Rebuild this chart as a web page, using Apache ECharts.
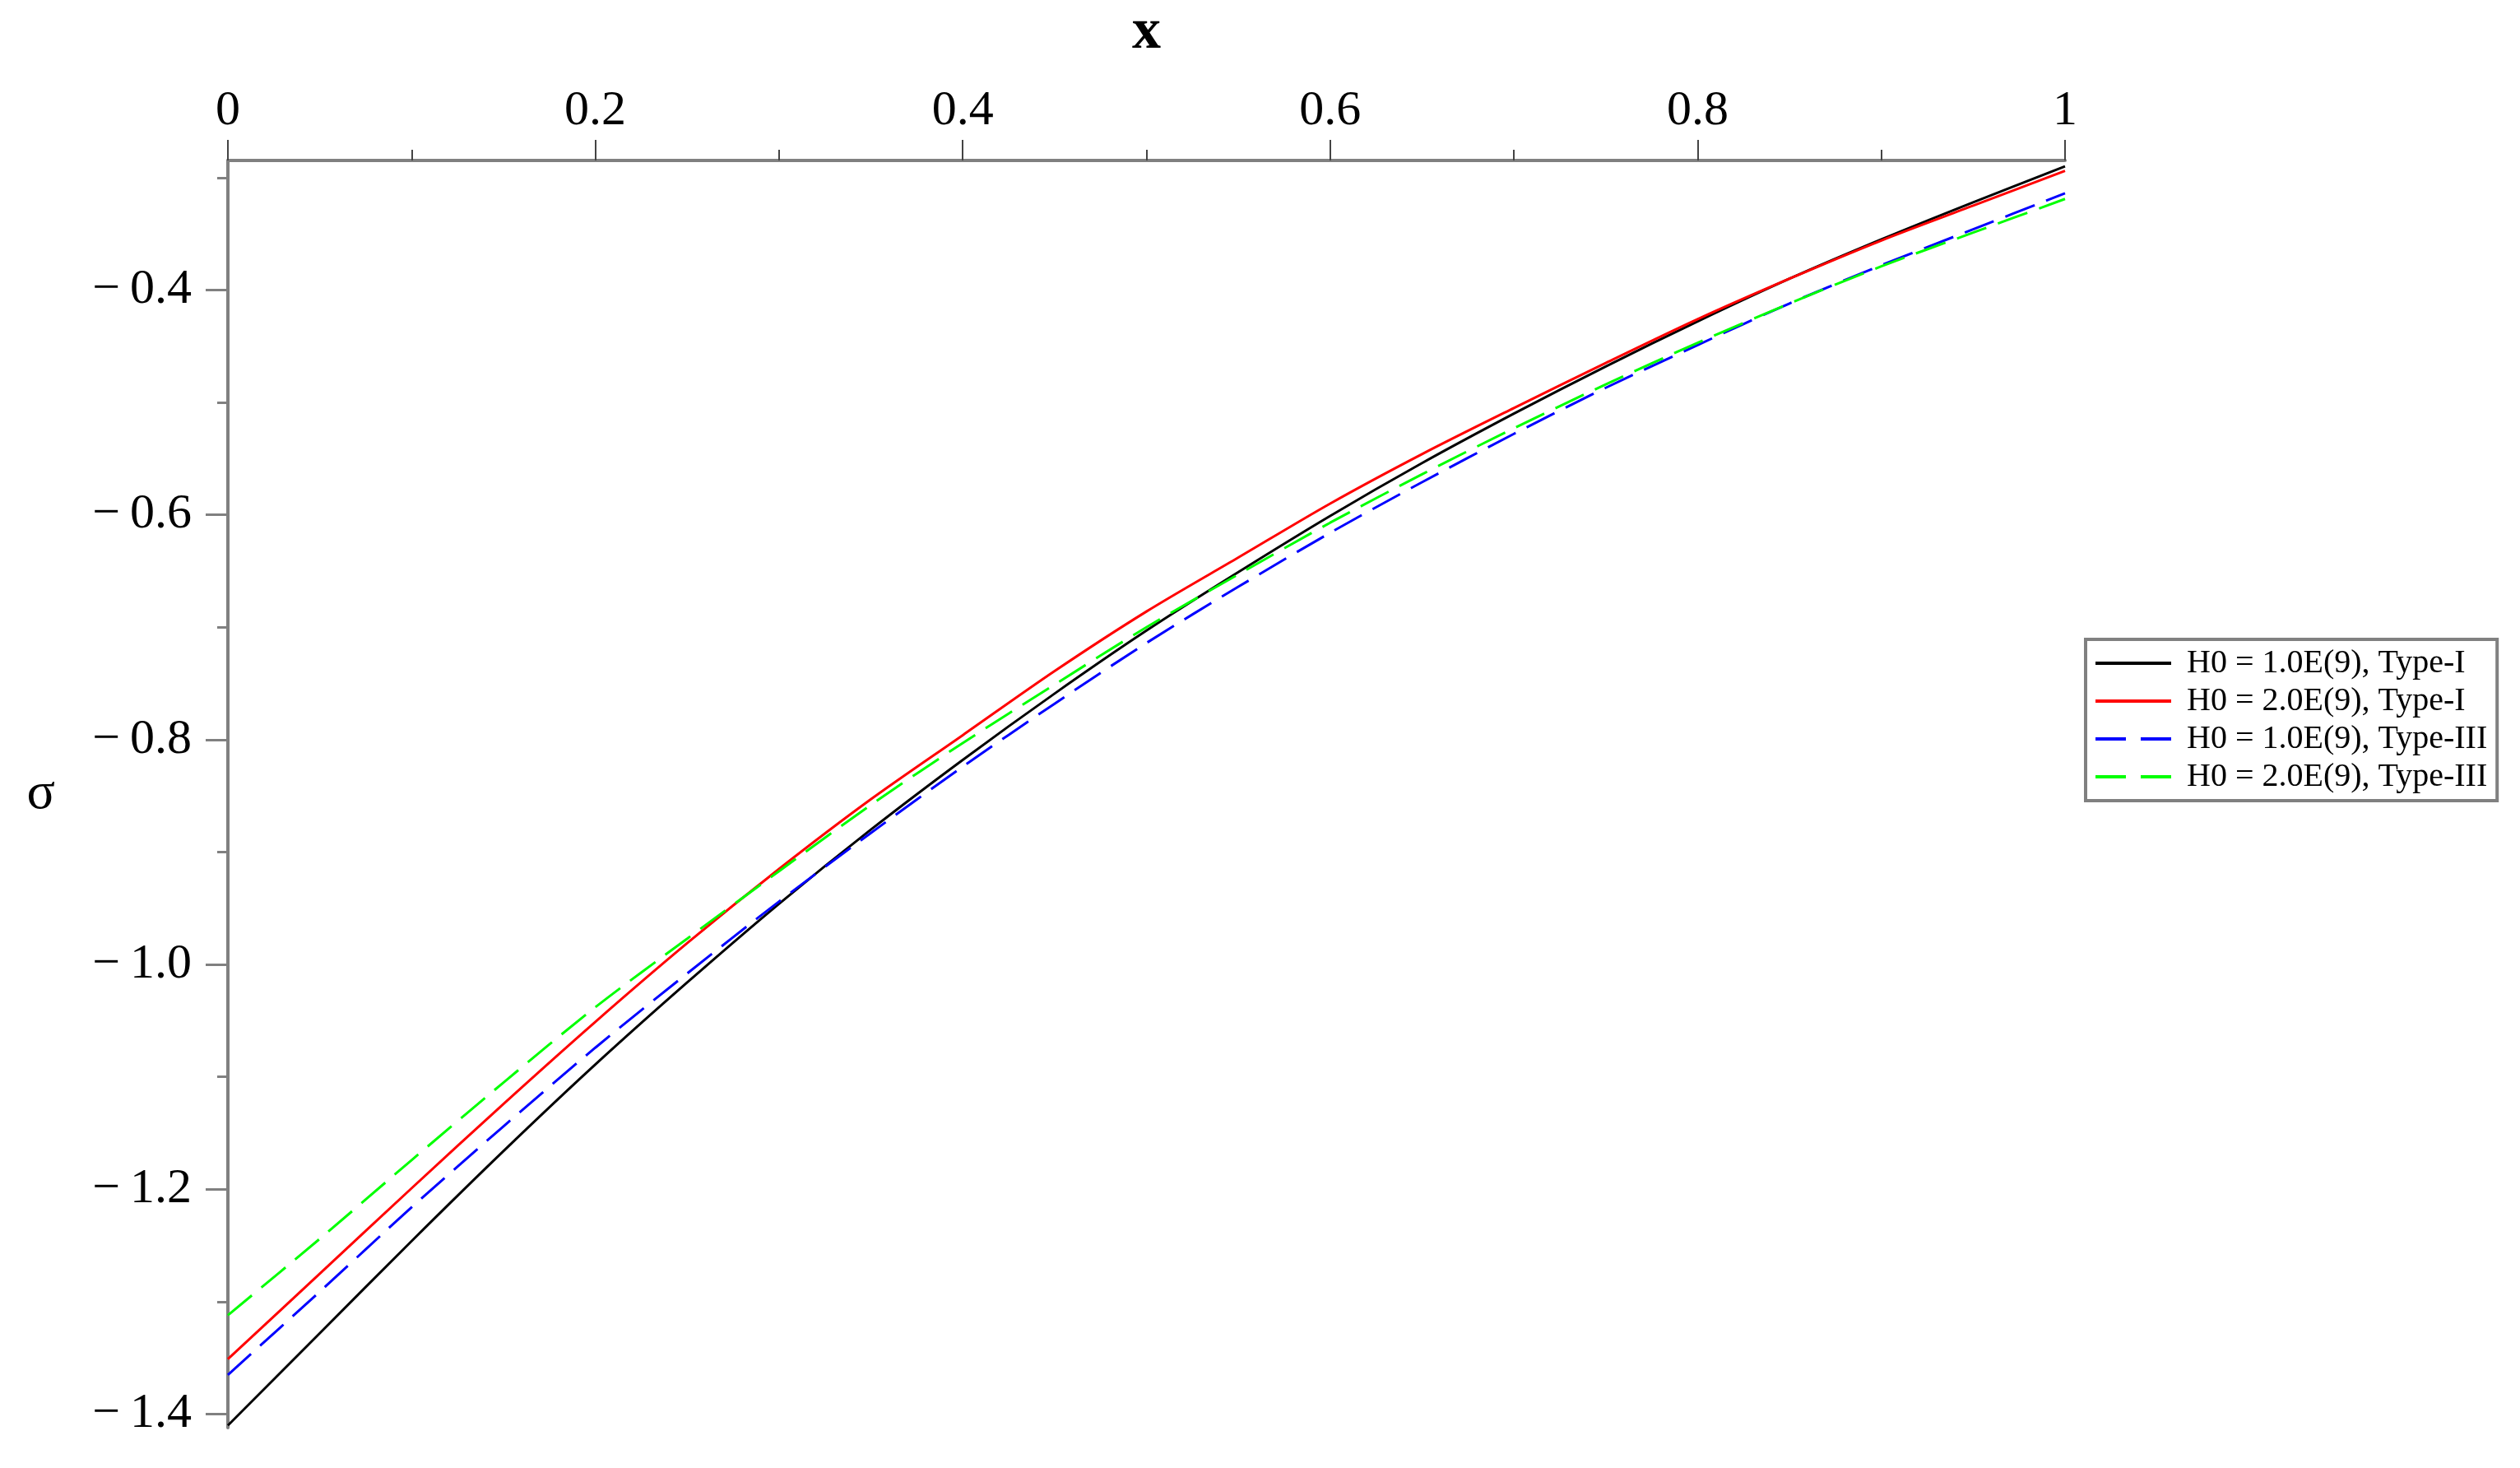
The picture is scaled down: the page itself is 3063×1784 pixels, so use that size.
<!DOCTYPE html>
<html>
<head>
<meta charset="utf-8">
<script src="https://cdn.jsdelivr.net/npm/echarts@6/dist/echarts.min.js"></script>
<style>
  html, body { margin: 0; padding: 0; background: #fff; }
  #chart { width: 3063px; height: 1784px; }
</style>
</head>
<body>
<div id="chart"></div>
<script>
const xs = [0, 0.05, 0.1, 0.15, 0.2, 0.25, 0.3, 0.35, 0.4, 0.45, 0.5,
            0.55, 0.6, 0.65, 0.7, 0.75, 0.8, 0.85, 0.9, 0.95, 1];

// sigma values for each case
const h1Type1 = [-1.410, -1.328, -1.246, -1.166, -1.089, -1.016, -0.946, -0.880, -0.818, -0.759, -0.703,
                 -0.651, -0.601, -0.554, -0.510, -0.468, -0.428, -0.390, -0.355, -0.322, -0.290];
const h2Type1 = [-1.351, -1.275, -1.199, -1.124, -1.051, -0.981, -0.915, -0.853, -0.796, -0.739, -0.686,
                 -0.638, -0.590, -0.546, -0.505, -0.465, -0.426, -0.390, -0.356, -0.325, -0.294];
const h1Type3 = [-1.365, -1.291, -1.216, -1.144, -1.074, -1.008, -0.944, -0.883, -0.824, -0.768, -0.714,
                 -0.664, -0.616, -0.571, -0.528, -0.487, -0.449, -0.412, -0.378, -0.346, -0.314];
const h2Type3 = [-1.312, -1.244, -1.174, -1.105, -1.038, -0.977, -0.917, -0.858, -0.803, -0.751, -0.700,
                 -0.653, -0.607, -0.564, -0.523, -0.484, -0.447, -0.412, -0.379, -0.349, -0.319];

const seriesNames = ['H0 = 1.0E(9), Type-I', 'H0 = 2.0E(9), Type-I',
                     'H0 = 1.0E(9), Type-III', 'H0 = 2.0E(9), Type-III'];

// ticks
const xMajorTicks = [0, 0.2, 0.4, 0.6, 0.8, 1];
const xMinorTicks = [0.1, 0.3, 0.5, 0.7, 0.9];
const yMajorTicks = [-1.4, -1.2, -1.0, -0.8, -0.6, -0.4];
const yMinorTicks = [-1.3, -1.1, -0.9, -0.7, -0.5, -0.3];

const yMin = -1.412, yMax = -0.2848;
const font = '"Liberation Serif", "DejaVu Serif", serif';
const axisGray = '#808080';

const zip = ys => xs.map((x, i) => [x, ys[i]]);

const chart = echarts.init(document.getElementById('chart'));

// legend: line only, no marker dot
const noDot = { color: 'rgba(0,0,0,0)', borderWidth: 0, opacity: 0 };

const option = {
  animation: false,
  backgroundColor: '#fff',
  grid: { left: 277, right: 553, top: 190, bottom: 49, containLabel: false },
  legend: {
    orient: 'vertical',
    left: 2535,
    top: 777,
    padding: [6, 12, 6, 10],
    itemGap: 0,
    itemWidth: 92,
    itemHeight: 14,
    borderColor: axisGray,
    borderWidth: 4,
    itemStyle: noDot,
    textStyle: { fontFamily: font, fontSize: 40, color: '#000', lineHeight: 46, padding: [0, 0, 0, 14] },
    data: [
      { name: seriesNames[0], itemStyle: noDot, lineStyle: { width: 4 } },
      { name: seriesNames[1], itemStyle: noDot, lineStyle: { width: 4 } },
      { name: seriesNames[2], itemStyle: noDot, lineStyle: { width: 4, type: [37, 18] } },
      { name: seriesNames[3], itemStyle: noDot, lineStyle: { width: 4, type: [37, 18] } }
    ]
  },
  xAxis: [
    {
      type: 'value', position: 'top', min: 0, max: 1, interval: 0.2,
      name: 'x', nameLocation: 'middle', nameGap: 120,
      nameTextStyle: { fontFamily: font, fontSize: 70, fontWeight: 'bold', color: '#000' },
      axisLine: { show: true, lineStyle: { color: axisGray, width: 4 } },
      axisTick: { show: true, length: 25, customValues: xMajorTicks, lineStyle: { color: '#444', width: 2 } },
      axisLabel: {
        margin: 30, fontFamily: font, fontSize: 60, color: '#000',
        customValues: xMajorTicks,
        formatter: v => (v === 0 || v === 1) ? String(v) : v.toFixed(1)
      },
      splitLine: { show: false }
    },
    {
      type: 'value', position: 'top', min: 0, max: 1,
      axisLine: { show: false },
      axisTick: { show: true, length: 13, customValues: xMinorTicks, lineStyle: { color: '#444', width: 2 } },
      axisLabel: { show: false },
      splitLine: { show: false }
    }
  ],
  yAxis: [
    {
      type: 'value', position: 'left', min: yMin, max: yMax,
      name: 'σ', nameLocation: 'middle', nameRotate: 0, nameGap: 210,
      nameTextStyle: { fontFamily: font, fontSize: 64, color: '#000' },
      axisLine: { show: true, onZero: false, lineStyle: { color: axisGray, width: 4 } },
      axisTick: { show: true, length: 27, customValues: yMajorTicks, lineStyle: { color: axisGray, width: 3 } },
      axisLabel: {
        margin: 44, fontFamily: font, fontSize: 60, color: '#000',
        customValues: yMajorTicks,
        formatter: v => '\u2212\u2009' + Math.abs(v).toFixed(1)
      },
      splitLine: { show: false }
    },
    {
      type: 'value', position: 'left', min: yMin, max: yMax,
      axisLine: { show: false },
      axisTick: { show: true, length: 13, customValues: yMinorTicks, lineStyle: { color: axisGray, width: 3 } },
      axisLabel: { show: false },
      splitLine: { show: false }
    }
  ],
  series: [
    {
      name: seriesNames[0], type: 'line', data: zip(h1Type1),
      showSymbol: false, symbol: 'none', smooth: 0.3,
      lineStyle: { color: '#000000', width: 3 }, itemStyle: { color: '#000000' }
    },
    {
      name: seriesNames[1], type: 'line', data: zip(h2Type1),
      showSymbol: false, symbol: 'none', smooth: 0.3,
      lineStyle: { color: '#ff0000', width: 3 }, itemStyle: { color: '#ff0000' }
    },
    {
      name: seriesNames[2], type: 'line', data: zip(h1Type3),
      showSymbol: false, symbol: 'none', smooth: 0.3,
      lineStyle: { color: '#0000ff', width: 3, type: [38, 15] }, itemStyle: { color: '#0000ff' }
    },
    {
      name: seriesNames[3], type: 'line', data: zip(h2Type3),
      showSymbol: false, symbol: 'none', smooth: 0.3,
      lineStyle: { color: '#00ff00', width: 3, type: [38, 15] }, itemStyle: { color: '#00ff00' }
    }
  ]
};

chart.setOption(option);
</script>
</body>
</html>
